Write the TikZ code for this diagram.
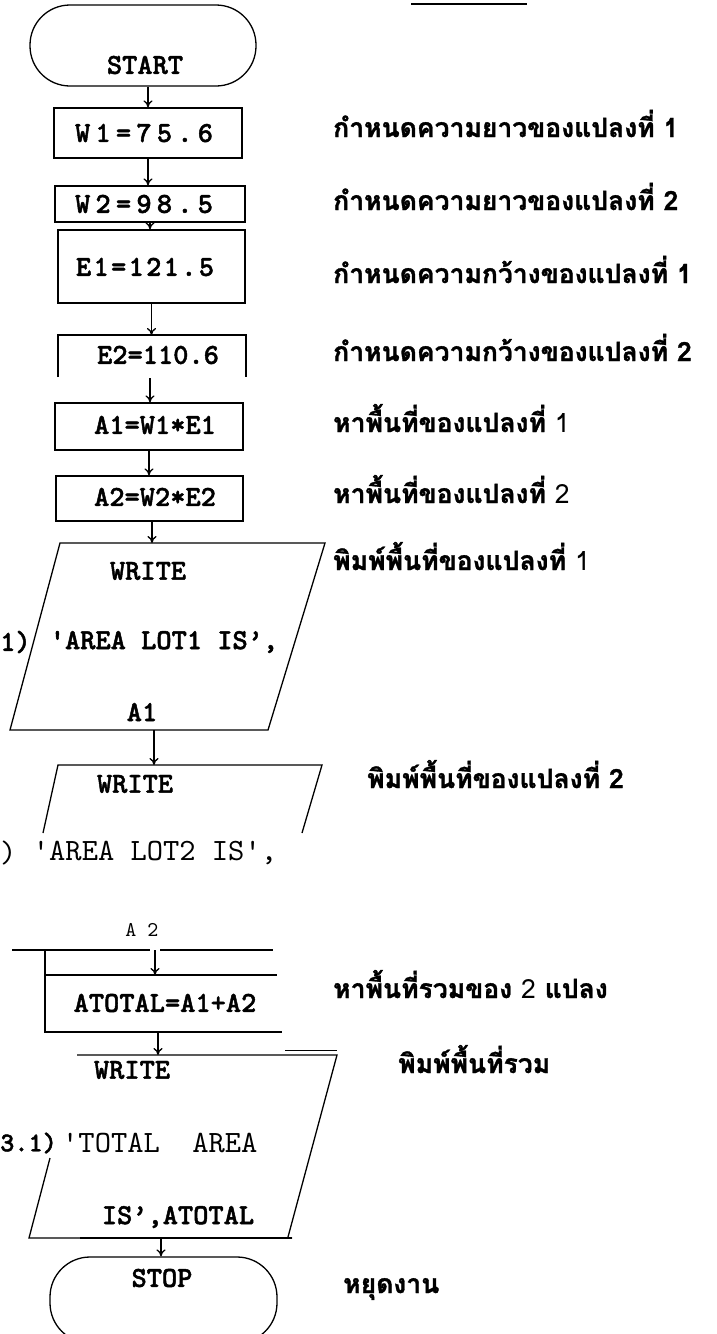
\documentclass[tikz,border=0pt]{standalone}
\usepackage{fontspec}
\usetikzlibrary{arrows.meta}
\newfontfamily\thai[Script=Thai, BoldFeatures={FakeBold=1.2}]{Loma}
\newfontfamily\tyb[FakeBold=1.6]{lmmonolt10-bold.otf}
\newfontfamily\tyr{lmmono10-regular.otf}
\newfontfamily\tybw[LetterSpace=18, FakeBold=1.6]{lmmonolt10-bold.otf}
\newfontfamily\tybe[LetterSpace=8, FakeBold=1.6]{lmmonolt10-bold.otf}
\tikzset{
  ln/.style={line width=1.3pt},
  thk/.style={line width=2.4pt},
  box/.style={draw, line width=1.3pt, inner sep=0pt},
  term/.style={draw, line width=1.3pt, rounded corners=40pt, inner sep=0pt},
  arr/.style={-{To[length=7pt,width=9pt]}, line width=1.3pt},
  tb/.style={font=\tyb\fontsize{29}{29}\selectfont, inner sep=0pt},
  tr/.style={font=\tyr\fontsize{31}{31}\selectfont, inner sep=0pt},
  th/.style={font=\thai\bfseries\fontsize{26.5}{26.5}\selectfont, inner sep=0pt, anchor=base west},
}
\newcommand{\thn}{\mdseries}
\begin{document}
\begin{tikzpicture}[x=1pt,y=-1pt]
\useasboundingbox (0,0) rectangle (716,1334);
\fill[white] (0,0) rectangle (716,1334);
\clip (0,0) rectangle (716,1334);

% top rule
\draw[line width=1.6pt] (411,4) -- (527,4);

% START
\node[term, minimum width=226pt, minimum height=81pt] (start) at (143,45.5) {};
\node[tb] (starttxt) at (145,65) {START};

% boxes
\node[box, minimum width=188pt, minimum height=50pt] (w1) at (148,133) {};
\node[tb, font=\tybw\fontsize{29}{29}\selectfont] (w1t) at (144,133) {W1=75.6};
\node[box, minimum width=190pt, minimum height=36pt] (w2) at (150,204) {};
\node[tb, font=\tybw\fontsize{29}{29}\selectfont] (w2t) at (144,204) {W2=98.5};
\node[box, minimum width=187pt, minimum height=73pt] (e1) at (151.5,266.5) {};
\node[tb, font=\tybe\fontsize{29}{29}\selectfont] (e1t) at (145,267) {E1=121.5};
\draw[ln] (58,377) -- (58,335) -- (246,335) -- (246,377);
\coordinate (e2top) at (151,335);
\coordinate (e2bot) at (150,378);
\node[tb] (e2t) at (158,355) {E2=110.6};
\node[box, minimum width=188pt, minimum height=47pt] (a1) at (149,426.5) {};
\node[tb] (a1t) at (155,425) {A1=W1*E1};
\node[box, minimum width=187pt, minimum height=45pt] (a2) at (149.5,498.5) {};
\node[tb] (a2t) at (155,497) {A2=W2*E2};

% parallelogram 1
\draw[ln] (60,543) -- (325,543) -- (268,730) -- (10,730) -- cycle;
\coordinate (p1top) at (152,543);
\coordinate (p1bot) at (154,730);
\node[tb] (p1w) at (148,571) {WRITE};
\node[tb] (p1l) at (164,642) {'AREA LOT1 IS’,};
\node[tb] (p1a) at (142,712) {A1};
\node[tb, anchor=west] (lab1) at (0,642) {1)};

% parallelogram 2 (open)
\draw[ln] (43,833) -- (58,765) -- (322,765) -- (302,833);
\coordinate (p2top) at (154,765);
\node[tb] (p2w) at (135,784) {WRITE};
\node[tr, anchor=west] (lab2) at (0,853) {)};
\node[tr] (p2l) at (155,853) {'AREA LOT2 IS',};
\node[tr, font=\tyr\fontsize{21}{21}\selectfont] (a2lab) at (142,930) {A 2};

% ATOTAL block
\coordinate (tin) at (155,950);
\draw[thk] (12,950) -- (150,950);
\draw[thk] (160,950) -- (273,950);
\draw[thk] (45,950) -- (45,1033);
\draw[thk] (45,975) -- (277,975);
\draw[thk] (45,1032) -- (282,1032);
\coordinate (ttop) at (155,975);
\coordinate (tbot) at (158,1032);
\node[tb] (tot) at (165,1003) {ATOTAL=A1+A2};

% parallelogram 3
\coordinate (p3top) at (158,1055);
\draw[ln] (77,1055) -- (337,1055) -- (288,1237);
\draw[line width=0.8pt] (285,1050) -- (337,1050);
\draw[ln] (50,1158) -- (29,1238) -- (292,1238);
\draw[line width=2.6pt] (80,1238) -- (292,1238);
\coordinate (p3bot) at (161,1238);
\node[tb] (p3w) at (132,1070) {WRITE};
\node[tb, anchor=west, font=\tyb\fontsize{27}{27}\selectfont] (lab3) at (0,1143) {3.1)};
\node[tr, anchor=west] (p3l) at (62,1143) {'TOTAL~~AREA};
\node[tb] (p3a) at (178,1217) {IS’,ATOTAL};

% STOP
\node[term, minimum width=227pt, minimum height=86pt] (stop) at (163.5,1300) {};
\node[tb] (stoptxt) at (162,1278) {STOP};

% connectors
\draw[arr] (start.south -| w1.north) -- (w1.north);
\draw[arr] (w1.south) -- (w1.south |- w2.north);
\draw[arr] (w2.south) -- (w2.south |- e1.north);
\draw[arr] (e1.south) -- (e1.south |- e2top);
\draw[arr] (e2bot) -- (e2bot |- a1.north);
\draw[arr] (a1.south) -- (a1.south |- a2.north);
\draw[arr] (a2.south -| p1top) -- (p1top);
\draw[arr] (p1bot) -- (p1bot |- p2top);
\draw[arr] (tin) -- (ttop);
\draw[arr] (tbot) -- (tbot |- p3top);
\draw[arr] (p3bot) -- (p3bot |- stop.north);

% Thai labels
\node[th] (l1) at (333,137) {กำหนดความยาวของแปลงที่ 1};
\node[th] (l2) at (333,210) {กำหนดความยาวของแปลงที่ 2};
\node[th] (l3) at (333,283) {กำหนดความกว้างของแปลงที่ 1};
\node[th] (l4) at (333,361) {กำหนดความกว้างของแปลงที่ 2};
\node[th] (l5) at (333,432) {หาพื้นที่ของแปลงที่ {\thn 1}};
\node[th] (l6) at (333,503) {หาพื้นที่ของแปลงที่ {\thn 2}};
\node[th] (l7) at (333,570) {พิมพ์พื้นที่ของแปลงที่ {\thn 1}};
\node[th] (l8) at (367,788) {พิมพ์พื้นที่ของแปลงที่ 2};
\node[th] (l9) at (333,998) {หาพื้นที่รวมของ {\thn 2} แปลง};
\node[th] (l10) at (398,1073) {พิมพ์พื้นที่รวม};
\node[th] (l11) at (343,1293) {หยุดงาน};
\end{tikzpicture}
\end{document}
